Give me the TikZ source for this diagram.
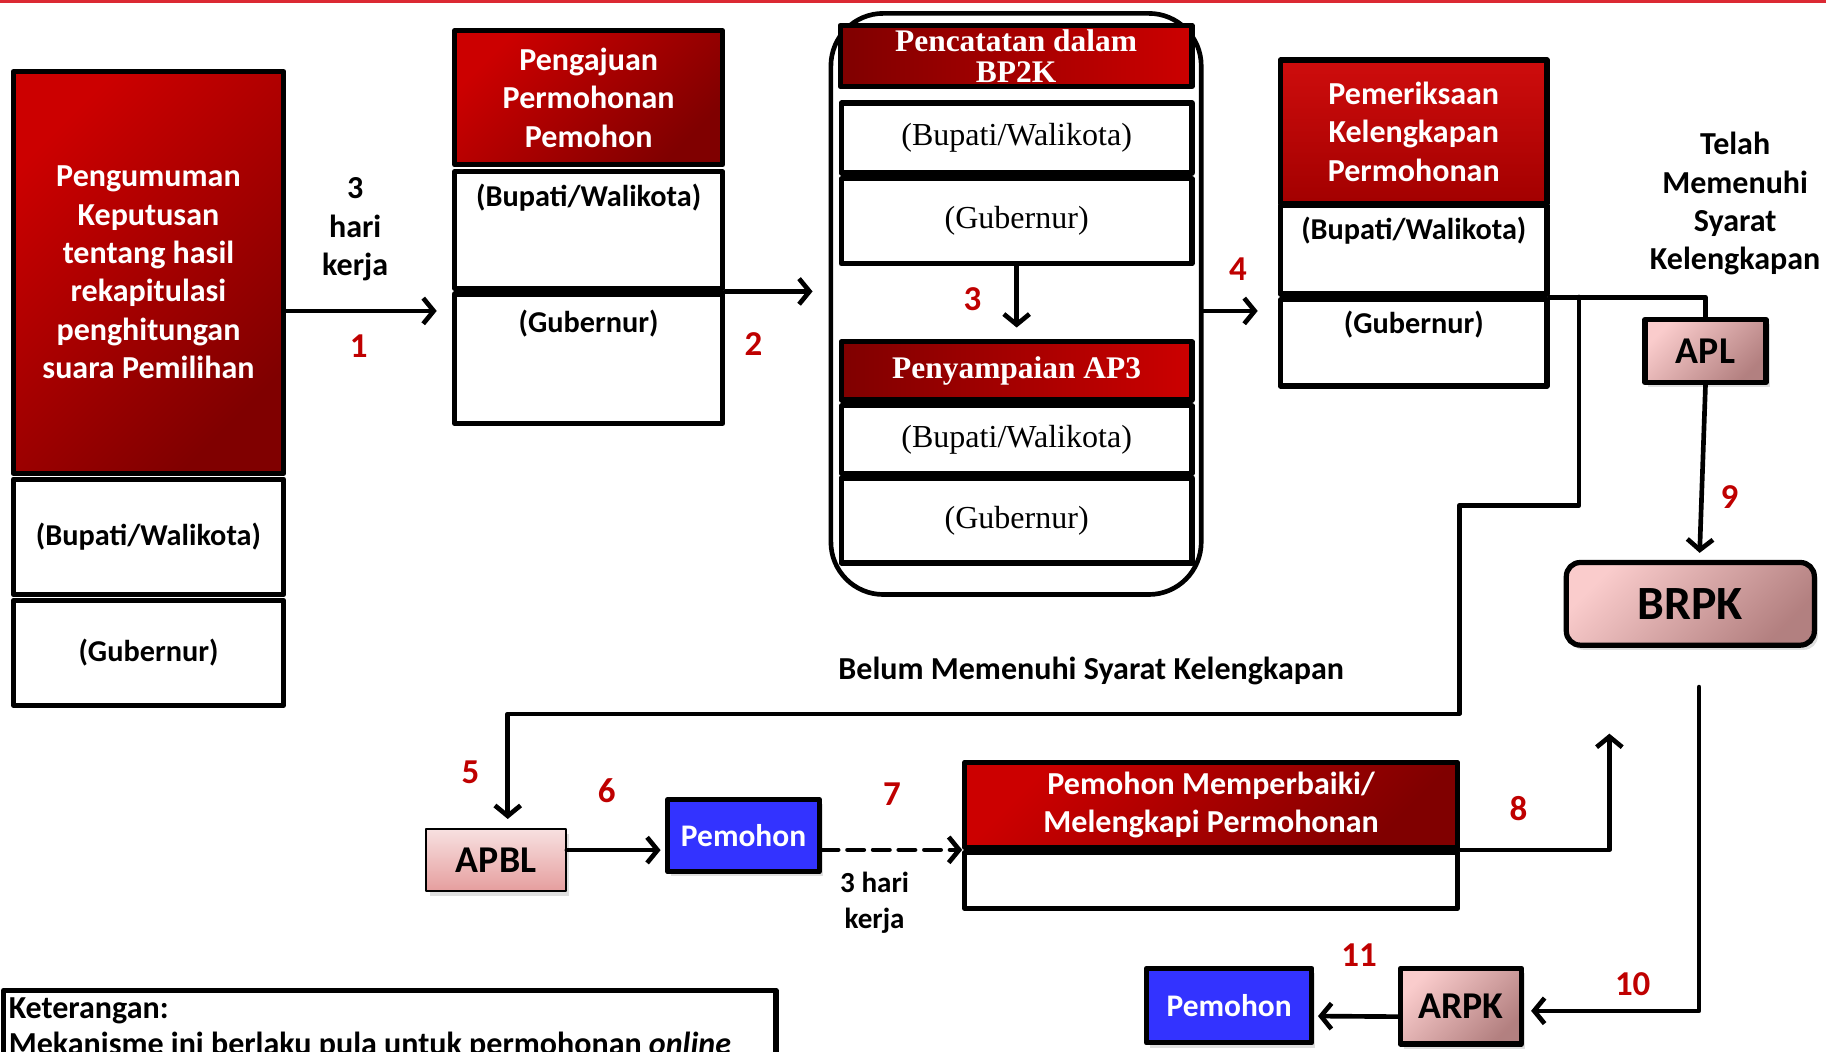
\documentclass[tikz,border=0pt]{standalone}
\usepackage{fontspec}
\setmainfont{Carlito}
\newfontfamily\cambfont{Liberation Serif}
\usepackage{tikz}
\usetikzlibrary{arrows.meta,positioning,shadows}
\definecolor{ccqqqq}{rgb}{0.8,0.,0.}
\definecolor{iqqqqq}{rgb}{0.5,0.,0.}
\definecolor{cqqqqq}{rgb}{0.75,0.,0.}
\definecolor{ttttff}{rgb}{0.2,0.2,1.}
\definecolor{fbcccc}{rgb}{0.98,0.8,0.8}
\definecolor{bheheh}{rgb}{0.7,0.5,0.5}
\definecolor{fadddd}{rgb}{0.97,0.88,0.88}
\definecolor{eaaaaa}{rgb}{0.9,0.62,0.62}
\definecolor{ddeett}{rgb}{0.86,0.16,0.2}

\begin{document}
\begin{tikzpicture}[line cap=round,line join=round,x=1pt,y=-1pt,
>={Straight Barb[length=9pt,width=22pt]},
redhead/.style={draw=black,line width=4.5pt,top color=ccqqqq,bottom color=iqqqqq,shading angle=45,text=white,align=center,font=\fontsize{27.5}{33}\selectfont\bfseries},
darkhead/.style={draw=black,line width=4.5pt,left color=iqqqqq,right color=ccqqqq,text=white,align=center,font=\cambfont\fontsize{27}{27}\selectfont\bfseries},
cell/.style={draw=black,line width=4.5pt,fill=white},
pinkbox/.style={draw=black,line width=4.5pt,top color=fbcccc,bottom color=bheheh,shading angle=45,font=\fontsize{32.5}{38}\selectfont\bfseries,drop shadow={opacity=0.25,shadow xshift=3pt,shadow yshift=-4pt}},
bluebox/.style={draw=black,line width=4.5pt,fill=ttttff,text=white,font=\fontsize{27}{33}\selectfont\bfseries,drop shadow={opacity=0.25,shadow xshift=3pt,shadow yshift=-4pt}},
num/.style={text=cqqqqq,font=\fontsize{30}{36}\selectfont\bfseries},
txt/.style={align=center,font=\fontsize{27.5}{33}\selectfont\bfseries},
celltxt/.style={font=\fontsize{26}{30}\selectfont\bfseries},
camtxt/.style={font=\cambfont\fontsize{27.5}{30}\selectfont},
conn/.style={line width=4pt},
arr/.style={conn,->}]
\useasboundingbox (0,0) rectangle (1568,903);
\fill [ddeett] (0,0) rectangle (1568,2.5);
% pengumuman
\node[redhead,minimum width=232,minimum height=345] (umum) at (127.5,234) {Pengumuman\\Keputusan\\tentang hasil\\rekapitulasi\\penghitungan\\suara Pemilihan};
\node[cell,minimum width=232,minimum height=99,celltxt] (uBup) at (127.5,461) {(Bupati/Walikota)};
\node[cell,minimum width=232,minimum height=90,celltxt] (uGub) at (127.5,560.5) {(Gubernur)};
% pengajuan
\node[redhead,minimum width=230,minimum height=115] (aju) at (505.5,84) {Pengajuan\\Permohonan\\Pemohon};
\node[cell,minimum width=230,minimum height=100] (aBup) at (505.5,197.5) {};
\node[cell,minimum width=230,minimum height=111] (aGub) at (505.5,308) {};
\node[celltxt] (aBupT) at (505.5,170) {(Bupati/Walikota)};
\node[celltxt] (aGubT) at (505.5,278) {(Gubernur)};
% pencatatan
\node[draw=black,line width=4pt,rounded corners=45pt,minimum width=318,minimum height=499] (grp) at (872.5,261) {};
\node[darkhead,minimum width=302,minimum height=49] (catat) at (872.5,48) {Pencatatan dalam\\BP2K};
\node[cell,minimum width=301,minimum height=60,camtxt] (cBup) at (873,118.5) {(Bupati/Walikota)};
\node[cell,minimum width=301,minimum height=73,camtxt] (cGub) at (873,190) {(Gubernur)};
\node[darkhead,minimum width=301,minimum height=50] (ap3) at (873,318.5) {Penyampaian AP3};
\node[cell,minimum width=301,minimum height=58,camtxt] (pBup) at (873,377.5) {(Bupati/Walikota)};
\node[cell,minimum width=301,minimum height=73,camtxt] (pGub) at (873,447) {(Gubernur)};
% pemeriksaan
\node[redhead,top color=ccqqqq!95!white,bottom color=cqqqqq!85!black,minimum width=229,minimum height=123] (periksa) at (1214,113) {Pemeriksaan\\Kelengkapan\\Permohonan};
\node[cell,minimum width=229,minimum height=76] (dBup) at (1214,214.5) {};
\node[cell,minimum width=229,minimum height=74] (dGub) at (1214,294.5) {};
\node[celltxt] (dBupT) at (1214,198) {(Bupati/Walikota)};
\node[celltxt] (dGubT) at (1214,279) {(Gubernur)};
\node[txt] (telah) at (1490,175) {Telah\\Memenuhi\\Syarat\\Kelengkapan};
% hasil
\node[pinkbox,minimum width=104,minimum height=54] (apl) at (1464.5,301.5) {APL};
\node[pinkbox,rounded corners=12pt,minimum width=213,minimum height=71,font=\fontsize{41}{48}\selectfont\bfseries] (brpk) at (1451.5,518.5) {BRPK};
\node[pinkbox,line width=1.5pt,top color=fadddd,bottom color=eaaaaa,drop shadow={opacity=0},minimum width=120,minimum height=53] (apbl) at (426,738.5) {APBL};
\node[bluebox,minimum width=130,minimum height=62] (pem1) at (638.5,717.5) {Pemohon};
\node[redhead,minimum width=423,minimum height=73] (memper) at (1040,691) {Pemohon Memperbaiki/\\Melengkapi Permohonan};
\node[cell,minimum width=423,minimum height=48] (mBawah) at (1040,756) {};
\node[pinkbox,minimum width=104,minimum height=65] (arpk) at (1254.5,864) {ARPK};
\node[bluebox,minimum width=142,minimum height=64] (pem2) at (1055.5,863.5) {Pemohon};
\node[txt] (belum) at (937,576) {Belum Memenuhi Syarat Kelengkapan};
\node[txt] (hk1) at (305,197) {3\\hari\\kerja};
\node[txt,font=\fontsize{25}{31}\selectfont\bfseries] (hk2) at (751,775) {3 hari\\kerja};
% keterangan
\node[draw=black,line width=4.5pt,anchor=north west,minimum width=663,minimum height=150] (ket) at (1,848) {};
\node[txt,anchor=west] (ketA) at (4,868) {Keterangan:};
\node[txt,anchor=west] (ketB) at (4,898) {Mekanisme ini berlaku pula untuk permohonan \textit{online}};
% alur
\coordinate (a1) at (375,267);
\coordinate (a4) at (1080,267);
\coordinate (sp) at (1356,255);
\coordinate (a8) at (1382,630);
\coordinate (a10) at (1459,590);
\draw [arr] (umum.east |- a1) -- (a1);
\draw [arr] (aGub.north east) -- ++(75,0);
\draw [arr] (cGub.south) -- ([yshift=10pt]ap3.north);
\draw [arr] (grp.east |- a4) -- (a4);
\draw [conn] (dGub.north east) -| (apl.north);
\draw [arr] (sp) |- (1253,434) -- (1253,613) -| ([xshift=10pt,yshift=8pt]apbl.north);
\draw [arr] ([yshift=8.5pt]apbl.east) -- ([xshift=-4pt,yshift=-12.5pt]pem1.west);
\draw [arr,dashed,dash pattern=on 14pt off 8pt] (pem1.east |- mBawah.north west) -- (mBawah.north west);
\draw [arr] (mBawah.north east) -| (a8);
\draw [arr] (apl.south) -- ([xshift=8pt,yshift=6pt]brpk.north);
\draw [arr] (a10) |- ([xshift=6pt,yshift=-4pt]arpk.east);
\draw [arr] ([yshift=-9pt]arpk.west) -- ([xshift=3pt,yshift=-9pt]pem2.east);
% nomor
\node[num] (n1) at (308,297) {1};
\node[num] (n2) at (647,295) {2};
\node[num] (n3) at (835,257) {3};
\node[num] (n4) at (1063,231) {4};
\node[num] (n5) at (404,663) {5};
\node[num] (n6) at (521,679) {6};
\node[num] (n7) at (766,682) {7};
\node[num] (n8) at (1304,694) {8};
\node[num] (n9) at (1485,427) {9};
\node[num] (n10) at (1402,845) {10};
\node[num] (n11) at (1167,820) {11};
\end{tikzpicture}
\end{document}
